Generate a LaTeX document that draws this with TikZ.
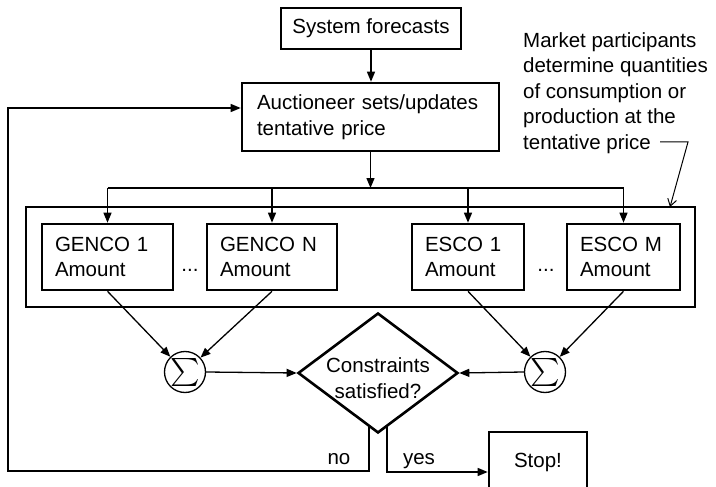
\documentclass[tikz,border=0pt]{standalone}
\usepackage{amsmath}
\usepackage{graphicx}
\usepackage{fontspec}
\setmainfont{Liberation Sans}
\usetikzlibrary{shapes.geometric,arrows.meta,calc}

\newcommand{\bigsum}{\scalebox{1.35}{$\textstyle\sum$}}

\begin{document}
\begin{tikzpicture}[x=1pt,y=-1pt,
    font=\fontsize{20.5}{25.5}\selectfont,
    thin line/.style={line width=1.3pt},
    arr/.style={thin line,-{Triangle[length=10pt,width=8pt]}},
    box/.style={draw,line width=2.6pt,inner sep=0pt},
    amt/.style={box,minimum height=66pt,align=left},
    sumnode/.style={draw,circle,thin line,minimum size=41pt,inner sep=0pt}]
    \path[use as bounding box] (0,0) rectangle (716,487);
    \clip (0,0) rectangle (716,487);

    \node[box,minimum width=180pt,minimum height=41pt] (sys) at (371,28.5) {System forecasts};
    \node[box,minimum width=257pt,minimum height=68pt,text width=227pt,align=left] (auct) at (370.5,117)
        {Auctioneer sets/updates\\tentative price};
    \draw[arr] (sys.south) -- (sys.south |- auct.north);

    \node[draw,thin line,minimum width=669pt,minimum height=100pt,inner sep=0pt] (mkt) at (360.5,257) {};
    \node[amt,minimum width=131pt,text width=105pt] (g1) at (107.5,257) {GENCO 1\\Amount};
    \node[amt,minimum width=130pt,text width=104pt] (gn) at (272,257) {GENCO N\\Amount};
    \node[amt,minimum width=112pt,text width=86pt] (e1) at (468,257) {ESCO 1\\Amount};
    \node[amt,minimum width=113pt,text width=87pt] (em) at (623.5,257) {ESCO M\\Amount};
    \node[anchor=base,inner sep=0pt] (gdots) at (190,271) {...};
    \node[anchor=base,inner sep=0pt] (edots) at (546,271) {...};

    \coordinate (split) at (370.5,188);
    \draw[arr] (auct.south) -- (split);
    \draw[thin line] (split -| g1.north) -- (split -| em.north);
    \foreach \b in {g1,gn,e1,em}
        \draw[arr] (split -| \b.north) -- (\b.north);

    \node[sumnode] (sumg) at (185,372) {\bigsum};
    \node[sumnode] (sume) at (545,372) {\bigsum};
    \node[draw,diamond,aspect=1.333,line width=2.6pt,minimum width=160pt,minimum height=120pt,inner sep=0pt] (chk) at (378,373) {};
    \node[align=center,inner sep=0pt] (chktxt) at (378,378) {Constraints\\satisfied?};

    \draw[arr] (g1.south) -- (sumg);
    \draw[arr] (gn.south) -- (sumg);
    \draw[arr] (e1.south) -- (sume);
    \draw[arr] (em.south) -- (sume);
    \draw[arr] (sumg.east) -- (chk.west);
    \draw[arr] (sume.west) -- (chk.east);

    \node[box,minimum width=98pt,minimum height=60pt] (stop) at (538,462) {Stop!};
    \coordinate (nostart) at ($(chk.south)+(-9,-7)$);
    \coordinate (yesstart) at ($(chk.south)+(9,-7)$);
    \coordinate (loop) at (8,471);
    \draw[arr] (nostart) |- (loop) |- ($(auct.west)+(0,-9)$);
    \draw[arr] (yesstart) |- ($(stop.west)+(0,10)$);
    \node[anchor=base] (no) at (339,464) {no};
    \node[anchor=base] (yes) at (419,464) {yes};

    \node[anchor=north west,align=left,inner sep=0pt] (note) at (523,32)
        {Market participants\\determine quantities\\of consumption or\\production at the\\tentative price};
    \coordinate (n1) at (660,142);
    \coordinate (n2) at (688,142);
    \coordinate (n3) at (670,207);
    \draw[line width=1pt,-{Straight Barb[length=7pt,width=9pt]}] (n1) -- (n2) -- (n3);
\end{tikzpicture}
\end{document}
